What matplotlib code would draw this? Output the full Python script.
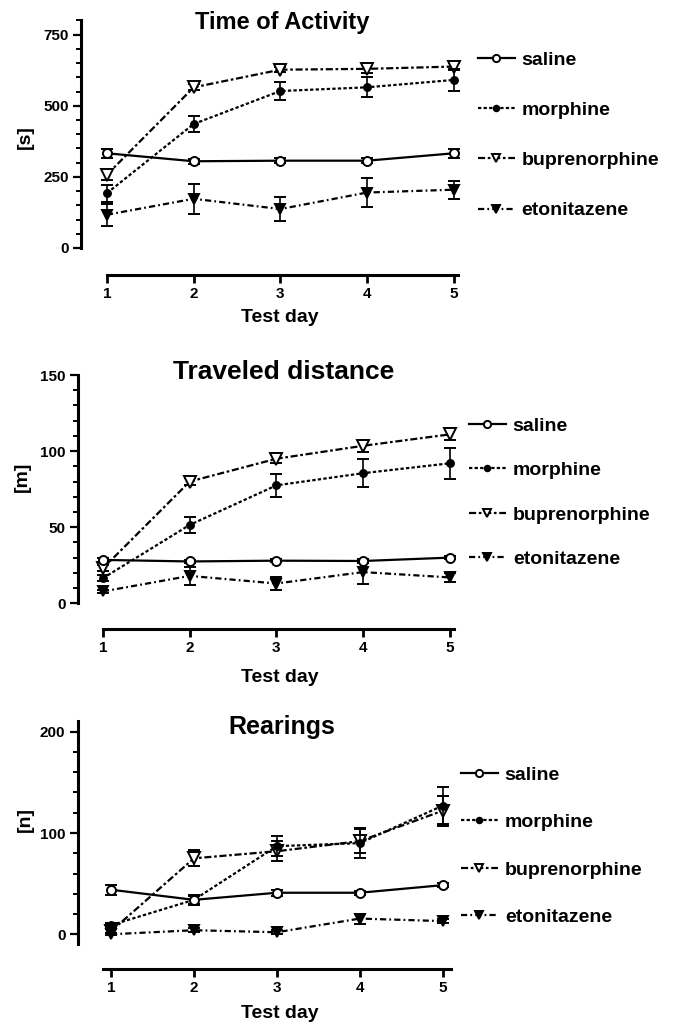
import matplotlib
matplotlib.use("Agg")
import matplotlib.pyplot as plt
from matplotlib.ticker import FixedLocator
from matplotlib.lines import Line2D
import numpy as np

plt.rcParams['font.family'] = ['Liberation Sans', 'DejaVu Sans']
plt.rcParams['font.weight'] = 'bold'

days = [1, 2, 3, 4, 5]
groups = ["saline", "morphine", "buprenorphine", "etonitazene"]

act_saline = [333, 305, 307, 307, 333]
act_saline_err = [15, 8, 8, 8, 15]
act_morphine = [193, 436, 552, 565, 591]
act_morphine_err = [30, 28, 33, 35, 40]
act_bup = [258, 565, 627, 630, 638]
act_bup_err = [20, 10, 8, 15, 12]
act_eton = [117, 173, 137, 195, 205]
act_eton_err = [38, 52, 42, 51, 32]

dist_saline = [28.5, 27.5, 28, 27.8, 30]
dist_saline_err = [1.5, 1, 1, 1, 1]
dist_morphine = [16.5, 51.5, 77.5, 85.5, 92]
dist_morphine_err = [2, 5, 7.5, 9, 10]
dist_bup = [23, 80, 95, 103.5, 111]
dist_bup_err = [2, 2.5, 3, 4, 4]
dist_eton = [7.8, 18, 13, 20.5, 17]
dist_eton_err = [1, 6, 4.5, 8, 3]

rear_saline = [44, 34, 41, 41, 48.5]
rear_saline_err = [5, 4, 3, 2, 2]
rear_morphine = [9, 34, 87, 90, 127]
rear_morphine_err = [2, 5, 10, 15, 18]
rear_bup = [3, 75, 82, 92, 122]
rear_bup_err = [2, 8, 10, 12, 15]
rear_eton = [0, 4, 2, 15.5, 13]
rear_eton_err = [1, 2, 2, 5, 2]

titles = ["Time of Activity", "Traveled distance", "Rearings"]
ylabels = ["[s]", "[m]", "[n]"]
xlabel = "Test day"

W, H = 681, 1028
fig = plt.figure(figsize=(W / 100, H / 100), dpi=100)

styles = [
    dict(ls='-', marker='o', mfc='white', ms=6.5, zorder=5),
    dict(ls=(0, (1.5, 1.0)), marker='o', mfc='black', ms=5, zorder=4),
    dict(ls=(0, (3.2, 1.2, 1.2, 1.2)), marker='v', mfc='white', ms=8, zorder=3),
    dict(ls=(0, (2.8, 1.4, 0.8, 1.4)), marker='v', mfc='black', ms=7.5, zorder=3),
]


def px_axes(left, right, top, bottom):
    return fig.add_axes([left / W, 1 - bottom / H, (right - left) / W, (bottom - top) / H])


panels = [
    dict(pos=(81, 458, 20.5, 275), xlim=(0.70, 5.05), ylim=(-95, 800), ybounds=(0, 800),
         xbounds=(1, 5.05), major=250, minor=50,
         data=[(act_saline, act_saline_err), (act_morphine, act_morphine_err),
               (act_bup, act_bup_err), (act_eton, act_eton_err)],
         title_xy=(282, 22), title_size=17, ylab_xy=(25, 137), xlab_y=318,
         leg_xy=(478, 51), leg_ls=1.68),
    dict(pos=(78, 455, 372, 629), xlim=(0.712, 5.06), ylim=(-16.9, 152), ybounds=(0, 150),
         xbounds=(1, 5.05), major=50, minor=10,
         data=[(dist_saline, dist_saline_err), (dist_morphine, dist_morphine_err),
               (dist_bup, dist_bup_err), (dist_eton, dist_eton_err)],
         title_xy=(284, 372), title_size=19, ylab_xy=(22, 477), xlab_y=677,
         leg_xy=(469, 417), leg_ls=1.38),
    dict(pos=(78, 451, 720.6, 969), xlim=(0.602, 5.1), ylim=(-34.3, 211), ybounds=(-10, 211),
         xbounds=(0.9, 5.1), major=100, minor=20,
         data=[(rear_saline, rear_saline_err), (rear_morphine, rear_morphine_err),
               (rear_bup, rear_bup_err), (rear_eton, rear_eton_err)],
         title_xy=(282, 727), title_size=18, ylab_xy=(25, 820), xlab_y=1013,
         leg_xy=(461, 766), leg_ls=1.54),
]

for i, p in enumerate(panels):
    ax = px_axes(*p['pos'])
    ax.set_xlim(*p['xlim'])
    ax.set_ylim(*p['ylim'])
    for (vals, errs), st, name in zip(p['data'], styles, groups):
        ax.errorbar(days, vals, yerr=errs, color='black', lw=1.6, ls=st['ls'],
                    marker=st['marker'], mfc=st['mfc'], mec='black', mew=1.4,
                    ms=st['ms'], ecolor='black', elinewidth=1.2, capsize=4,
                    capthick=1.2, zorder=st['zorder'], label=name, clip_on=False)
    for s in ['top', 'right']:
        ax.spines[s].set_visible(False)
    ax.spines['left'].set_linewidth(2.2)
    ax.spines['bottom'].set_linewidth(2.2)
    ax.spines['left'].set_bounds(*p['ybounds'])
    ax.spines['bottom'].set_bounds(*p['xbounds'])
    ax.set_xticks(days)
    ax.set_xticklabels([str(d) for d in days])
    top = p['ybounds'][1]
    majors = list(np.arange(0, top + 0.1, p['major']))
    minors = [v for v in np.arange(0, top + 0.1, p['minor']) if v not in majors]
    ax.yaxis.set_major_locator(FixedLocator(majors))
    ax.yaxis.set_minor_locator(FixedLocator(minors))
    ax.set_yticklabels([str(int(v)) for v in majors])
    ax.tick_params(axis='y', which='major', length=6, width=1.6, labelsize=11, pad=3)
    ax.tick_params(axis='y', which='minor', length=3.5, width=1.4)
    ax.tick_params(axis='x', which='major', length=6, width=2.0, labelsize=11, pad=3)
    for lab in ax.get_xticklabels() + ax.get_yticklabels():
        lab.set_fontweight('bold')
    ax.patch.set_visible(False)

    fig.text(p['title_xy'][0] / W, 1 - p['title_xy'][1] / H, titles[i], ha='center',
             va='center', fontsize=p['title_size'], fontweight='bold')
    fig.text(p['ylab_xy'][0] / W, 1 - p['ylab_xy'][1] / H, ylabels[i], ha='center',
             va='center', rotation=90, fontsize=14, fontweight='bold')
    fig.text(280 / W, 1 - p['xlab_y'] / H, xlabel, ha='center', va='center',
             fontsize=14, fontweight='bold')

    leg_handles = [Line2D([], [], color='black', lw=1.6, ls=st['ls'], marker=st['marker'],
                          mfc=st['mfc'], mec='black', mew=1.4, ms=st['ms'] * 0.8)
                   for st in styles]
    ax.legend(leg_handles, groups, loc='upper left',
              bbox_to_anchor=(p['leg_xy'][0] / W, 1 - p['leg_xy'][1] / H),
              bbox_transform=fig.transFigure, frameon=False, borderpad=0,
              borderaxespad=0, handlelength=1.9, handletextpad=0.35,
              labelspacing=p['leg_ls'], numpoints=1,
              prop=dict(size=14, weight='bold'))

fig.savefig("out.png", dpi=100)
